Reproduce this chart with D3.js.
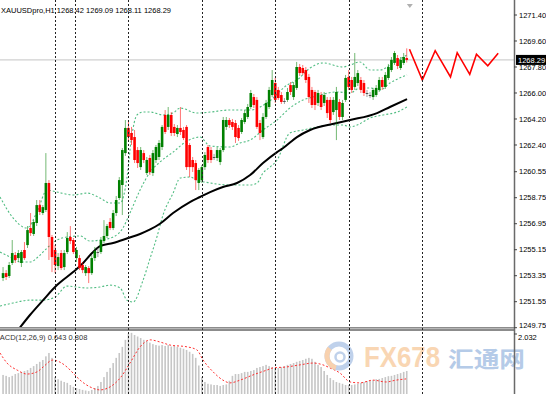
<!DOCTYPE html>
<html>
<head>
<meta charset="utf-8">
<script src="https://cdn.jsdelivr.net/npm/d3@7"></script>
<style>
  body { margin: 0; background: #fff; }
  svg { display: block; font-family: "Liberation Sans", Arial, sans-serif; }
</style>
</head>
<body>
<svg id="chart"></svg>
<script>
// XAUUSDpro H1 - candles, bollinger bands, moving average, MACD + forecast zigzag

var title = "XAUUSDpro,H1  1268.42 1269.09 1268.11 1268.29";
var macdTitle = "MACD(12,26,9) 0.643 0.808";
var lastPrice = 1268.29;

// bar index of the first candle (0 = first bar of the day at the first separator)
var firstBar = -17;

// [open, high, low, close]
var bars = [
  [1253.19,1253.95,1252.98,1253.53],[1253.53,1253.74,1253.05,1253.26],[1253.33,1254.30,1253.19,1254.09],
  [1254.23,1255.82,1254.09,1254.92],[1254.78,1254.99,1254.23,1254.44],[1254.57,1255.13,1254.30,1254.92],
  [1254.23,1255.13,1253.95,1254.99],[1255.13,1255.68,1254.44,1254.57],[1255.47,1256.79,1255.27,1256.51],
  [1256.65,1257.69,1256.10,1256.30],[1256.24,1257.20,1256.10,1257.07],[1257.00,1258.59,1256.79,1258.24],
  [1258.24,1258.59,1257.55,1257.76],[1257.69,1258.24,1257.55,1258.10],[1257.90,1261.84,1257.76,1259.77],
  [1259.77,1259.97,1254.44,1256.03],[1256.03,1256.17,1253.60,1254.64],
  [1255.13,1255.47,1253.53,1254.09],[1254.02,1254.92,1253.74,1254.64],[1254.92,1255.13,1253.74,1253.88],
  [1253.95,1255.13,1253.74,1254.92],[1254.99,1256.37,1254.85,1255.96],[1256.03,1256.79,1255.54,1255.75],
  [1255.82,1255.96,1254.85,1254.99],[1254.57,1255.34,1254.30,1255.13],[1254.57,1254.78,1253.74,1253.88],
  [1254.09,1254.30,1253.53,1253.74],[1253.53,1254.09,1253.33,1253.95],[1253.88,1254.02,1252.84,1253.53],
  [1253.53,1254.78,1253.40,1254.57],[1254.57,1255.34,1254.37,1255.06],[1254.99,1255.27,1254.64,1254.99],
  [1254.99,1256.03,1254.85,1255.82],[1255.75,1257.20,1255.61,1256.10],[1256.10,1256.93,1255.96,1256.79],
  [1257.07,1257.34,1256.51,1256.65],[1256.65,1257.90,1256.51,1257.69],[1257.69,1258.87,1257.48,1258.59],
  [1258.73,1260.18,1258.59,1259.97],[1259.63,1262.19,1257.55,1262.05],[1261.84,1264.13,1261.64,1263.58],
  [1263.58,1264.13,1262.61,1262.95],[1263.23,1263.65,1262.40,1262.74],[1262.95,1263.44,1261.15,1261.36],
  [1262.05,1262.26,1260.81,1261.15],[1260.87,1262.26,1260.67,1262.05],[1261.84,1262.05,1261.15,1261.36],
  [1260.46,1261.57,1260.32,1261.36],[1261.50,1261.71,1260.32,1260.53],[1260.46,1262.05,1260.25,1261.84],
  [1261.36,1262.40,1261.15,1262.26],[1261.57,1262.74,1261.36,1262.54],[1262.26,1263.78,1262.05,1263.65],
  [1264.48,1264.82,1263.16,1263.30],[1263.65,1265.03,1263.44,1264.48],[1264.48,1264.68,1263.02,1263.23],
  [1263.65,1263.85,1263.02,1263.23],[1263.16,1263.78,1262.95,1263.58],[1263.58,1265.03,1263.09,1263.30],
  [1263.44,1263.65,1262.74,1262.88],[1263.65,1263.78,1260.67,1260.87],[1262.40,1262.54,1260.18,1260.87],
  [1261.36,1261.57,1260.53,1260.87],[1261.15,1261.36,1259.28,1259.97],[1259.77,1260.81,1259.28,1260.67],
  [1259.97,1261.01,1259.77,1260.87],[1260.87,1261.91,1260.67,1261.71],[1262.26,1262.40,1261.15,1261.36],
  [1262.05,1262.26,1261.15,1261.36],[1261.57,1261.78,1261.36,1261.57],[1261.50,1262.26,1261.29,1262.05],
  [1261.22,1262.19,1261.01,1262.05],[1262.05,1264.34,1261.91,1264.13],[1263.65,1264.34,1263.44,1264.13],
  [1264.13,1264.27,1263.58,1263.78],[1263.99,1264.20,1263.44,1263.65],[1263.92,1264.13,1262.54,1262.95],
  [1263.58,1263.78,1262.68,1262.88],[1263.30,1264.27,1263.16,1264.13],[1263.99,1264.82,1263.85,1264.61],
  [1264.34,1265.24,1264.20,1265.03],[1265.03,1266.21,1264.89,1266.00],[1265.72,1265.93,1264.96,1265.17],
  [1265.52,1265.72,1263.51,1263.65],[1263.92,1264.13,1262.74,1263.23],[1262.95,1264.61,1262.81,1264.34],
  [1264.34,1265.52,1264.20,1265.31],[1265.03,1266.42,1264.89,1266.21],[1265.86,1267.59,1265.72,1266.90],
  [1266.69,1267.04,1265.31,1265.52],[1266.21,1266.42,1265.52,1265.65],[1265.86,1266.07,1265.24,1265.38],
  [1265.45,1265.65,1265.24,1265.45],[1265.52,1266.35,1265.38,1266.07],[1266.55,1266.76,1265.86,1266.07],
  [1265.72,1266.76,1265.52,1266.55],[1266.35,1268.15,1266.21,1267.80],[1267.80,1268.01,1267.18,1267.38],
  [1267.73,1267.94,1267.25,1267.38],[1267.59,1267.80,1266.69,1266.90],[1267.11,1267.32,1265.31,1265.72],
  [1266.21,1266.42,1264.96,1265.17],[1266.07,1266.21,1264.82,1265.17],[1265.31,1266.21,1265.10,1266.00],
  [1265.86,1266.07,1264.82,1265.03],[1265.31,1266.07,1265.10,1265.86],[1265.52,1265.72,1264.27,1264.61],
  [1265.52,1265.72,1263.92,1264.13],[1264.68,1265.72,1264.48,1265.52],[1264.82,1266.42,1262.74,1266.07],
  [1265.38,1265.58,1264.13,1264.34],[1264.34,1265.52,1264.13,1265.31],[1265.52,1267.25,1265.38,1267.04],
  [1267.11,1267.59,1266.21,1266.42],[1266.90,1267.11,1266.00,1266.21],[1266.42,1268.77,1266.21,1267.11],
  [1266.69,1267.59,1266.48,1267.38],[1266.90,1267.11,1266.00,1266.21],[1266.69,1266.90,1265.79,1266.00],
  [1266.00,1266.21,1265.72,1266.00],[1265.86,1266.07,1265.65,1265.86],[1265.72,1266.35,1265.52,1266.21],
  [1265.86,1266.55,1265.72,1266.35],[1266.21,1267.11,1266.07,1266.90],[1266.90,1267.11,1266.21,1266.42],
  [1266.42,1267.45,1266.28,1267.25],[1267.04,1268.01,1266.90,1267.80],[1267.59,1268.49,1267.45,1268.29],
  [1268.08,1268.91,1267.94,1268.77],[1268.42,1268.63,1267.66,1267.87],[1267.73,1268.49,1267.59,1268.29],
  [1268.08,1268.77,1267.94,1268.49],[1268.42,1269.09,1268.11,1268.29]
];

// moving average (black) as [bar, price]
var maLine = [
  [-12.1,1249.59],[-8.2,1250.63],[-3.9,1251.66],[0.65,1252.70],[5.9,1253.60],[9.2,1254.23],
  [12.1,1254.92],[14.7,1255.40],[19,1255.61],[23.9,1255.96],[27.8,1256.24],[31.1,1256.55],
  [34.3,1256.95],[38.6,1257.69],[44.1,1258.45],[47.4,1258.80],[50.7,1259.14],[54.9,1259.49],
  [59.5,1259.77],[63.8,1260.32],[68,1261.15],[72.6,1261.91],[74.6,1262.19],[79.1,1262.95],
  [83.4,1263.44],[92.2,1263.92],[96.5,1264.13],[105.3,1264.61],[109.5,1265.03],[115.1,1265.58]
];

// bollinger bands (green dashed)
var bbUpper = [
  [-18,1258.80],[-13.7,1257.34],[-9.2,1256.65],[-5.9,1257.76],[-2.6,1259.28],[0.65,1259.14],
  [5.9,1258.94],[10.5,1259.07],[14.7,1258.73],[18,1258.38],[21.3,1258.38],[23.5,1260.11],
  [24.9,1262.74],[26.8,1264.48],[28.8,1264.68],[31.1,1264.68],[35.3,1264.48],[38.6,1264.61],
  [40.9,1264.96],[46.4,1264.61],[50.7,1264.68],[57.2,1264.82],[63.8,1264.82],[69.3,1265.31],
  [75.9,1266.55],[79.1,1266.90],[83.4,1267.73],[87.6,1268.08],[94.2,1267.80],[96.5,1267.94],
  [99.7,1268.15],[103,1267.59],[106.3,1267.59],[110.5,1268.08],[115.1,1268.63]
];
var bbMiddle = [
  [-18,1254.99],[-14.7,1254.64],[-11.4,1254.30],[-8.2,1254.30],[-4.9,1254.78],[-2.6,1255.27],
  [0.65,1255.82],[3.9,1256.03],[8.2,1256.10],[11.4,1255.75],[14.7,1255.82],[19,1256.03],
  [22.2,1256.65],[24.5,1257.69],[27.8,1259.28],[31.1,1260.53],[34.3,1261.22],[38.6,1261.91],
  [43.2,1262.68],[47.4,1262.95],[50.7,1262.33],[57.2,1262.26],[60.5,1262.54],[63.8,1262.74],
  [68,1263.44],[72.6,1264.13],[76.8,1264.96],[81.1,1265.52],[84.4,1265.72],[92.2,1266.07],
  [96.5,1266.00],[99.7,1266.35],[103,1266.35],[106.3,1266.21],[109.5,1266.69],[115.1,1267.25]
];
var bbLower = [
  [-18,1251.25],[-13.7,1251.46],[-8.2,1251.66],[-3.9,1251.66],[0,1251.87],[3.9,1252.63],
  [10.5,1252.50],[14.7,1252.57],[18,1252.70],[21.3,1252.50],[23.5,1251.66],[25.5,1251.53],
  [28.8,1253.05],[31.1,1254.57],[33.4,1256.10],[35.3,1257.55],[38.6,1259.07],[40.9,1260.11],
  [44.1,1260.18],[46.4,1259.97],[50.7,1259.77],[57.2,1259.63],[63.8,1259.63],[66.1,1259.77],
  [68,1260.46],[70.3,1260.87],[72.6,1261.36],[76.8,1263.23],[81.1,1263.44],[85.7,1263.65],
  [89.9,1263.78],[94.2,1263.78],[96.5,1263.65],[98.8,1263.78],[103,1264.27],[107.3,1264.48],
  [111.8,1264.68],[115.1,1265.03]
];

// forecast zigzag (red) as [bar, price]
var forecast = [
  [115.9,1269.03],[120.1,1266.90],[124.3,1268.93],[129.3,1267.11],[131.5,1268.79],
  [135.6,1267.29],[137.8,1268.68],[141.5,1267.89],[144.9,1268.75]
];

// MACD histogram, one value per candle
var macdHist = [
  0.69,0.66,0.62,0.66,0.72,0.75,0.79,0.82,0.85,0.92,0.98,1.05,1.12,1.18,1.30,1.41,1.25,
  0.62,0.55,0.50,0.46,0.43,0.36,0.30,0.26,0.23,0.20,0.18,0.16,0.20,0.26,0.33,0.46,0.62,
  0.79,0.92,1.08,1.25,1.41,1.61,1.84,2.05,2.07,2.00,1.95,1.90,1.84,1.80,1.75,1.70,1.67,
  1.65,1.67,1.64,1.67,1.62,1.64,1.61,1.58,1.55,1.51,1.45,1.38,1.25,1.00,0.62,0.46,0.40,
  0.38,0.36,0.36,0.33,0.36,0.38,0.50,0.66,0.72,0.72,0.75,0.79,0.79,0.82,0.85,0.92,
  0.95,0.98,1.02,0.98,0.95,0.92,0.92,0.95,0.98,1.02,1.05,1.08,1.12,1.15,1.18,1.22,1.25,1.22,
  1.12,1.02,0.95,0.82,0.69,0.59,0.52,0.46,0.43,0.40,0.36,0.36,0.36,0.38,0.40,
  0.43,0.46,0.49,0.50,0.52,0.55,0.56,0.59,0.62,0.65,0.66,0.69,0.72,0.75,0.79,0.82
];

// MACD signal line (red dotted) as [bar, value]
var macdSignal = [
  [-18,1.41],[-15.7,1.08],[-12.4,0.85],[-9.2,0.72],[-5.9,0.79],[-3.9,0.95],[-0.7,1.18],
  [1.6,1.11],[3.9,0.95],[5.9,0.75],[8.2,0.52],[11.4,0.30],[14.7,0.20],[18,0.30],[21.3,0.59],
  [24.5,1.08],[27.8,1.61],[31.1,1.84],[34.3,1.77],[37.6,1.67],[43.2,1.61],[46.4,1.51],
  [48.4,1.18],[51.7,0.79],[54.9,0.52],[57.2,0.43],[60.5,0.52],[64.7,0.69],[69.3,0.85],
  [71.3,0.92],[75.5,0.95],[80.1,1.02],[84.4,1.08],[87.6,1.02],[89.9,0.92],[93.2,0.75],
  [96.5,0.46],[99.7,0.43],[104,0.52],[108.2,0.46],[111.5,0.52],[114.8,0.56]
];

// vertical dotted separators (bar positions)
var separators = [0, 6.5, 24, 48, 72, 96, 120];

var priceTicks = [1271.40, 1269.60, 1267.80, 1266.00, 1264.20, 1262.40, 1260.55,
                  1258.75, 1256.95, 1255.15, 1253.35, 1251.55, 1249.75];
var macdTicks = [2.032, 0.0005];
var macdTickLabels = ["2.032", "0.0005"];

var dims = {
    width: 546,
    height: 394,
    axisX: 514,
    mainBottom: 327,
    macdTop: 331
};

var svg = d3.select("#chart")
    .attr("width", dims.width)
    .attr("height", dims.height);

var xScale = d3.scaleLinear().domain([-18, 150.4]).range([0, 515]);
var yScale = d3.scaleLinear().domain([1249.75, 1271.40]).range([327.7, 15]);
var macdScale = d3.scaleLinear().domain([0, 2.032]).range([396, 334]);

var defs = svg.append("defs");
defs.append("clipPath").attr("id", "clipMain")
    .append("rect").attr("x", 0).attr("y", 0).attr("width", dims.axisX).attr("height", dims.mainBottom);
defs.append("clipPath").attr("id", "clipMacd")
    .append("rect").attr("x", 0).attr("y", dims.macdTop).attr("width", dims.axisX).attr("height", dims.height - dims.macdTop);

var candles = bars.map(function (b, k) {
    return { i: firstBar + k, o: b[0], h: b[1], l: b[2], c: b[3] };
});

// ---- main panel ----
var main = svg.append("g").attr("clip-path", "url(#clipMain)");

// current price line
main.append("line")
    .attr("x1", 0).attr("x2", dims.axisX)
    .attr("y1", yScale(lastPrice)).attr("y2", yScale(lastPrice))
    .attr("stroke", "#c4c4c4").attr("stroke-width", 1);

var line = d3.line()
    .curve(d3.curveMonotoneX)
    .x(function (d) { return xScale(d[0]); })
    .y(function (d) { return yScale(d[1]); });

[bbUpper, bbMiddle, bbLower].forEach(function (band) {
    main.append("path")
        .attr("d", line(band))
        .attr("fill", "none")
        .attr("stroke", "#52bd83")
        .attr("stroke-width", 1.1)
        .attr("stroke-dasharray", "2,2");
});

main.append("path")
    .attr("d", line(maLine))
    .attr("fill", "none")
    .attr("stroke", "#000")
    .attr("stroke-width", 2);

function candleColor(d) {
    if (d.c > d.o) return "#008000";
    if (d.c < d.o) return "#ff0000";
    return "#505050";
}

main.selectAll(".wick")
    .data(candles)
    .enter()
    .append("line")
    .attr("class", "wick")
    .attr("x1", function (d) { return xScale(d.i); })
    .attr("x2", function (d) { return xScale(d.i); })
    .attr("y1", function (d) { return yScale(d.h); })
    .attr("y2", function (d) { return yScale(d.l); })
    .attr("stroke", candleColor)
    .attr("stroke-opacity", 0.55)
    .attr("stroke-width", 1);

main.selectAll(".body")
    .data(candles)
    .enter()
    .append("rect")
    .attr("class", "body")
    .attr("x", function (d) { return xScale(d.i) - 1.3; })
    .attr("width", 2.6)
    .attr("y", function (d) { return yScale(Math.max(d.o, d.c)); })
    .attr("height", function (d) { return Math.max(1, Math.abs(yScale(d.o) - yScale(d.c))); })
    .attr("fill", candleColor);

main.append("path")
    .attr("d", d3.line()
        .x(function (d) { return xScale(d[0]); })
        .y(function (d) { return yScale(d[1]); })(forecast))
    .attr("fill", "none")
    .attr("stroke", "#ff0000")
    .attr("stroke-width", 1.6);

// chart shift marker
var sx = xScale(116);
svg.append("path")
    .attr("d", "M" + (sx - 3) + ",4 L" + (sx + 3) + ",4 L" + sx + ",8 Z")
    .attr("fill", "#b0b0b0");

// title
svg.append("text")
    .attr("x", 1).attr("y", 13)
    .attr("font-size", "7.5px")
    .attr("fill", "#000")
    .text(title);

// ---- MACD panel ----
var macd = svg.append("g").attr("clip-path", "url(#clipMacd)");

macd.selectAll(".hist")
    .data(macdHist)
    .enter()
    .append("rect")
    .attr("class", "hist")
    .attr("x", function (d, k) { return xScale(firstBar + k) - 0.8; })
    .attr("width", 1.6)
    .attr("y", function (d) { return macdScale(d); })
    .attr("height", function (d) { return macdScale(0) - macdScale(d); })
    .attr("fill", "#c6c6c6");

macd.append("path")
    .attr("d", d3.line()
        .curve(d3.curveMonotoneX)
        .x(function (d) { return xScale(d[0]); })
        .y(function (d) { return macdScale(d[1]); })(macdSignal))
    .attr("fill", "none")
    .attr("stroke", "#ff3030")
    .attr("stroke-width", 1)
    .attr("stroke-dasharray", "2,2");

svg.append("text")
    .attr("x", -6.5).attr("y", 340)
    .attr("font-size", "7.5px")
    .attr("fill", "#333")
    .text(macdTitle);

// watermark
var wm = svg.append("g").attr("opacity", 0.85);
wm.append("circle")
    .attr("cx", 339).attr("cy", 356).attr("r", 12)
    .attr("fill", "none").attr("stroke", "#b5cae8").attr("stroke-width", 5);
wm.append("path")
    .attr("transform", "translate(339,356)")
    .attr("d", d3.arc().innerRadius(9.5).outerRadius(14.5).startAngle(3.4).endAngle(5.4)())
    .attr("fill", "#f7c9a0");
wm.append("circle")
    .attr("cx", 340).attr("cy", 357).attr("r", 4.5)
    .attr("fill", "none").attr("stroke", "#b5cae8").attr("stroke-width", 2.5);
wm.append("text")
    .attr("x", 364).attr("y", 367)
    .attr("font-size", "29px").attr("font-weight", "bold")
    .attr("textLength", 76).attr("lengthAdjust", "spacingAndGlyphs")
    .attr("fill", "#f9cfa6")
    .text("FX678");
wm.append("text")
    .attr("x", 448).attr("y", 367)
    .attr("font-family", "'Noto Sans CJK SC', sans-serif")
    .attr("font-size", "22px").attr("font-weight", "bold")
    .attr("textLength", 77).attr("lengthAdjust", "spacingAndGlyphs")
    .attr("fill", "#a9c2e4")
    .text("汇通网");

// panel separator
svg.append("rect")
    .attr("x", 0).attr("y", dims.mainBottom)
    .attr("width", dims.axisX).attr("height", 4)
    .attr("fill", "#8c8c8c");
svg.append("line")
    .attr("x1", 0).attr("x2", dims.axisX)
    .attr("y1", dims.mainBottom + 1.5).attr("y2", dims.mainBottom + 1.5)
    .attr("stroke", "#b8b8b8").attr("stroke-width", 1);

// dotted separators over everything
svg.selectAll(".sep")
    .data(separators)
    .enter()
    .append("line")
    .attr("class", "sep")
    .attr("x1", function (d) { return Math.round(xScale(d)) + 0.5; })
    .attr("x2", function (d) { return Math.round(xScale(d)) + 0.5; })
    .attr("y1", 0).attr("y2", dims.height)
    .attr("stroke", "#222")
    .attr("stroke-width", 1)
    .attr("stroke-dasharray", "2,2");

// ---- right price axis ----
svg.append("line")
    .attr("x1", dims.axisX + 0.5).attr("x2", dims.axisX + 0.5)
    .attr("y1", 0).attr("y2", dims.height)
    .attr("stroke", "#6a6a6a").attr("stroke-width", 1.5);

var axisG = svg.append("g");
priceTicks.forEach(function (p, k) {
    var yy = yScale(p);
    // lowest label sits a little above its tick so it clears the MACD scale
    var shift = (k === priceTicks.length - 1) ? -2.5 : 0;
    axisG.append("line")
        .attr("x1", dims.axisX).attr("x2", dims.axisX + 3)
        .attr("y1", yy).attr("y2", yy)
        .attr("stroke", "#444");
    axisG.append("text")
        .attr("x", 519).attr("y", yy + shift).attr("dy", "0.35em")
        .attr("font-size", "7.5px").attr("fill", "#000")
        .text(p.toFixed(2));
});

macdTicks.forEach(function (v, k) {
    var yy = macdScale(v);
    axisG.append("line")
        .attr("x1", dims.axisX).attr("x2", dims.axisX + 3)
        .attr("y1", yy).attr("y2", yy)
        .attr("stroke", "#444");
    axisG.append("text")
        .attr("x", 518).attr("y", yy + 3).attr("dy", "0.35em")
        .attr("font-size", "7.5px").attr("fill", "#000")
        .text(macdTickLabels[k]);
});

// last price box
var ly = yScale(lastPrice);
svg.append("rect")
    .attr("x", 516).attr("y", ly - 5)
    .attr("width", 30).attr("height", 10)
    .attr("fill", "#000");
svg.append("text")
    .attr("x", 518).attr("y", ly).attr("dy", "0.35em")
    .attr("font-size", "7.5px").attr("fill", "#fff")
    .text(lastPrice.toFixed(2));
</script>
</body>
</html>
